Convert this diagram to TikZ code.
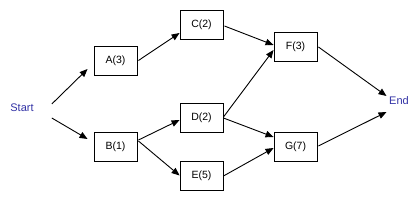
\documentclass[tikz,border=0pt]{standalone}
\usepackage{fontspec}
\setmainfont{Liberation Sans}
\usetikzlibrary{arrows.meta}
\definecolor{termblue}{RGB}{50,50,165}
\begin{document}
\begin{tikzpicture}[x=1pt,y=-1pt,
  task/.style={draw=black,line width=0.9pt,minimum width=43pt,minimum height=29pt,inner sep=0pt,font=\fontsize{10.5}{12}\selectfont},
  term/.style={inner sep=0pt,text=termblue,font=\fontsize{11}{13}\selectfont},
  conn/.style={line width=0.9pt,-{Triangle[length=8pt,width=6.5pt]}}]
\useasboundingbox (0,0) rectangle (420,205);
\node[term] (start) at (22,108) {Start};
\node[term] (end) at (399,101) {End};
\node[task] (A) at (115.5,60.5) {A(3)};
\node[task] (B) at (115.5,146.5) {B(1)};
\node[task] (C) at (201.5,24.5) {C(2)};
\node[task] (D) at (201.5,118) {D(2)};
\node[task] (E) at (201.5,175.5) {E(5)};
\node[task] (F) at (295.5,46.5) {F(3)};
\node[task] (G) at (295.5,146.5) {G(7)};
\draw[conn] ([shift={(18,-4)}]start.east) -- ([shift={(-6,8.5)}]A.west);
\draw[conn] ([shift={(18,10)}]start.east) -- ([shift={(-6,-7.5)}]B.west);
\draw[conn] ([shift={(1,0)}]A.east) -- ([shift={(0,8.5)}]C.west);
\draw[conn] ([shift={(1,-6.5)}]B.east) -- ([shift={(0,2)}]D.west);
\draw[conn] ([shift={(1,-5.5)}]B.east) -- (E.west);
\draw[conn] ([shift={(1,1.5)}]C.east) -- ([shift={(0,-1.5)}]F.west);
\draw[conn] ([shift={(0,-1)}]D.east) -- ([shift={(0,3.5)}]F.west);
\draw[conn] ([shift={(0,0)}]D.east) -- ([shift={(0,-9.5)}]G.west);
\draw[conn] ([shift={(0,0.5)}]E.east) -- ([shift={(0,1.5)}]G.west);
\draw[conn] ([shift={(1,0.5)}]F.east) -- ([shift={(-2.5,-5)}]end.west);
\draw[conn] ([shift={(1,-0.5)}]G.east) -- ([shift={(-2.5,11)}]end.west);
\end{tikzpicture}
\end{document}
